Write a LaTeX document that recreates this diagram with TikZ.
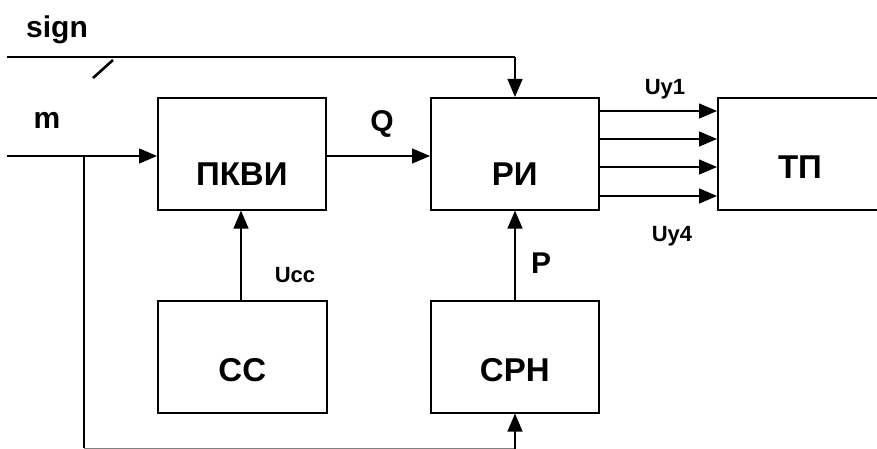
\documentclass[tikz,border=0pt]{standalone}
\usepackage{fontspec}
\setmainfont{Liberation Sans}
\usetikzlibrary{arrows.meta}
\begin{document}
\begin{tikzpicture}[x=1pt,y=-1pt,
  blk/.style={draw, line width=1.6pt, minimum width=#1, minimum height=112pt, inner sep=0pt, anchor=north west},
  blk/.default=168pt,
  big/.style={font=\bfseries\fontsize{33}{36}\selectfont},
  mid/.style={font=\bfseries\fontsize{30}{32}\selectfont},
  sml/.style={font=\bfseries\fontsize{22}{24}\selectfont},
  wire/.style={line width=1.3pt},
  arr/.style={wire, -{Triangle[length=18pt,width=15pt]}},
  lab/.style={big, yshift=-20pt}
]
\useasboundingbox (0,0) rectangle (877,449);
\clip (0,0) rectangle (877,449);
\fill[white] (0,0) rectangle (877,449);

% blocks
\node[blk] (pkvi) at (157,97) {};
\node[lab] (tpkvi) at (pkvi.center) {ПКВИ};
\node[blk] (ri) at (430,97) {};
\node[lab] (tri) at (ri.center) {РИ};
\node[blk=190pt] (tp) at (717,97) {};
\node[big] (ttp) at (800,167) {ТП};
\node[blk=169pt] (cc) at (157,300) {};
\node[lab, yshift=7pt] (tcc) at (cc.center) {СС};
\node[blk] (crh) at (430,300) {};
\node[lab, yshift=7pt] (tcrh) at (crh.center) {СРН};

% text labels
\node[mid] (sign) at (57,30) {sign};
\node[mid] (m) at (47,120) {m};
\node[mid] (q) at (382,124) {Q};
\node[mid] (p) at (541,263) {P};
\node[sml] (ucc) at (295,275) {Ucc};
\node[sml] (uy1) at (665,89) {Uy1};
\node[sml] (uy4) at (672,236) {Uy4};

% coordinates
\coordinate (s0) at (7,57);
\coordinate (s1) at (515,57);
\coordinate (m0) at (7,156);
\coordinate (br) at (84,156);
\coordinate (bl) at (84,448);
\coordinate (bb) at (515,448);
\coordinate (bot) at (515,460);

% connectors
\draw[wire] (s0) -- (s1);
\draw[arr] (s1) -- (s1 |- ri.north);
\draw[line width=2.6pt] (93,78) -- (113,60);
\draw[arr] (m0) -- (m0 -| pkvi.west);
\draw[wire] (br) -- (bl);
\draw[line width=0.8pt, gray] (bl) -- (bb);
\draw[arr] (bot) -- (bot |- crh.south);
\draw[arr] (pkvi.east |- 0,156) -- (ri.west |- 0,156);
\draw[arr] (cc.north -| 241,0) -- (pkvi.south -| 241,0);
\draw[arr] (crh.north -| 515,0) -- (ri.south -| 515,0);
\foreach \yy in {111,139,167,196}{
  \draw[arr] (ri.east |- 0,\yy) -- (tp.west |- 0,\yy);
}
\end{tikzpicture}
\end{document}
